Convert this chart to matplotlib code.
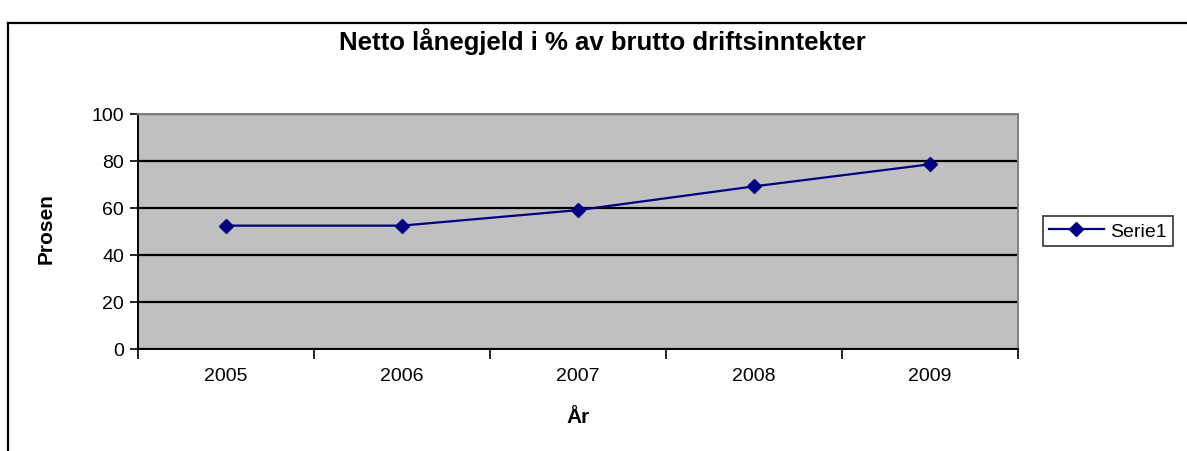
import numpy as np
import matplotlib
matplotlib.use('Agg')
from matplotlib import pyplot as plt
from matplotlib.lines import Line2D

years = ['2005', '2006', '2007', '2008', '2009']
values = [52.5, 52.5, 59.1, 69.2, 78.6]
yticks = [0, 20, 40, 60, 80, 100]

plt.rcParams['font.family'] = ['Liberation Sans', 'DejaVu Sans']

fig = plt.figure(figsize=(11.87, 4.52), dpi=100)
fig.patch.set_facecolor('white')

# chart frame (goes past right/bottom edge like the screenshot)
fig.add_artist(Line2D([8 / 1187, 1.01], [1 - 24 / 452, 1 - 24 / 452], color='black', lw=1.6,
                      transform=fig.transFigure))
fig.add_artist(Line2D([8 / 1187, 8 / 1187], [-0.01, 1 - 24 / 452], color='black', lw=1.6,
                      transform=fig.transFigure))

ax = fig.add_axes([138 / 1187, 1 - 350 / 452, 880 / 1187, 235 / 452])
ax.set_facecolor('#c0c0c0')

x = np.arange(len(years))
line, = ax.plot(x, values, color='#000080', lw=1.6, marker='D', markersize=7,
                markerfacecolor='#000080', markeredgecolor='#000080', zorder=3)

ax.set_xlim(-0.5, len(years) - 0.5)
ax.set_ylim(0, 100)
ax.set_yticks(yticks)
ax.set_yticklabels([str(v) for v in yticks], fontsize=14)
ax.yaxis.grid(True, color='black', lw=1.6)
ax.set_axisbelow(True)

# category ticks between groups, labels in the middle
ax.set_xticks(np.arange(-0.5, len(years), 1.0))
ax.set_xticklabels([])
ax.set_xticks(x, minor=True)
ax.set_xticklabels(years, minor=True, fontsize=14)
ax.tick_params(axis='x', which='major', length=7, width=1.2, direction='out')
ax.tick_params(axis='x', which='minor', length=0, pad=13)
ax.tick_params(axis='y', length=6, width=1.2, pad=4)

for s in ['left', 'bottom']:
    ax.spines[s].set_color('black')
    ax.spines[s].set_linewidth(1.4)
for s in ['top', 'right']:
    ax.spines[s].set_color('#808080')
    ax.spines[s].set_linewidth(1.4)

fig.text(602 / 1187, 1 - 42 / 452, 'Netto lånegjeld i % av brutto driftsinntekter',
         ha='center', va='center', fontsize=18.5, fontweight='bold')
fig.text(46 / 1187, 1 - 229 / 452, 'Prosen', rotation=90, ha='center', va='center',
         fontsize=15, fontweight='bold')
fig.text(578 / 1187, 1 - 418 / 452, 'År', ha='center', va='center',
         fontsize=15, fontweight='bold')

leg = fig.legend([line], ['Serie1'], loc='center', bbox_to_anchor=(1108 / 1187, 1 - 232 / 452),
                 frameon=True, fancybox=False, fontsize=14, handlelength=2.8,
                 borderpad=0.3, handletextpad=0.35, borderaxespad=0)
leg.get_frame().set_edgecolor('black')
leg.get_frame().set_linewidth(1.2)

fig.savefig('out.png', dpi=100)
